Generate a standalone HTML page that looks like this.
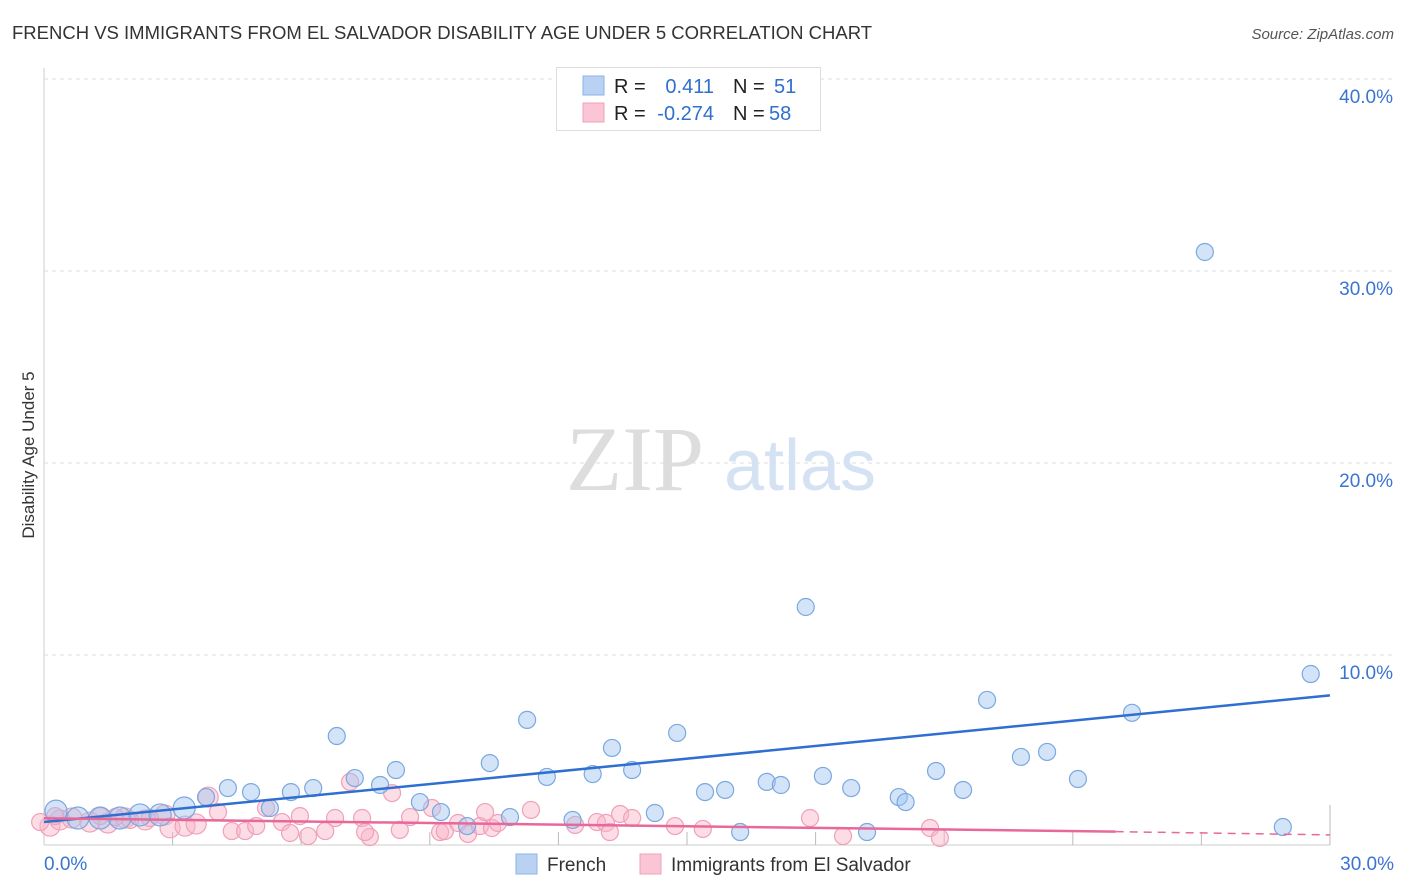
<!DOCTYPE html>
<html><head><meta charset="utf-8"><style>
body{margin:0;background:#fff;font-family:"Liberation Sans",sans-serif}
svg{display:block}
</style></head><body>
<svg id="chart" width="1406" height="892" xmlns="http://www.w3.org/2000/svg">
<text x="12" y="39" font-size="18.5" fill="#333">FRENCH VS IMMIGRANTS FROM EL SALVADOR DISABILITY AGE UNDER 5 CORRELATION CHART</text>
<text x="1394" y="39" font-size="15" fill="#555" font-style="italic" text-anchor="end">Source: ZipAtlas.com</text>
<g id="grid"></g>
<text x="635" y="490" font-size="92" fill="#ddd" text-anchor="middle" font-family="Liberation Serif,serif">ZIP</text>
<text x="800" y="490" font-size="72" fill="#d4e2f4" text-anchor="middle">atlas</text>
<text transform="translate(34,455) rotate(-90)" font-size="17" fill="#333" text-anchor="middle">Disability Age Under 5</text>
<g id="marks"></g>
<g>
<rect x="556.5" y="67.5" width="264" height="63" fill="#fff" stroke="#ddd"/>
<rect x="583" y="76" width="21" height="19" fill="#b9d2f3" stroke="#8db3e6"/>
<rect x="583" y="103" width="21" height="19" fill="#fac5d4" stroke="#f2a0b8"/>
<text x="614" y="93" font-size="20" fill="#222">R =</text>
<text x="714" y="93" font-size="20" fill="#2f6fcf" text-anchor="end">0.411</text>
<text x="733" y="93" font-size="20" fill="#222">N =</text>
<text x="774" y="93" font-size="20" fill="#2f6fcf">51</text>
<text x="614" y="120" font-size="20" fill="#222">R =</text>
<text x="714" y="120" font-size="20" fill="#2f6fcf" text-anchor="end">-0.274</text>
<text x="733" y="120" font-size="20" fill="#222">N =</text>
<text x="769" y="120" font-size="20" fill="#2f6fcf">58</text>
</g>
<g>
<rect x="516" y="854" width="21" height="20" fill="#b9d2f3" stroke="#8db3e6"/>
<text x="547" y="871" font-size="19" fill="#333">French</text>
<rect x="640" y="854" width="21" height="20" fill="#fac5d4" stroke="#f2a0b8"/>
<text x="671" y="871" font-size="19" fill="#333">Immigrants from El Salvador</text>
</g>
</svg>
<script>
const xTicks=[0,3,6,9,12,15,18,21,24,27,30];
const yTicks=[10,20,30,40];
const frenchX=[0.28,0.79,1.31,1.77,2.24,2.71,3.27,3.78,4.29,4.83,5.27,5.76,6.28,6.83,7.25,7.84,8.21,8.77,9.26,9.87,10.4,10.87,11.27,11.73,12.33,12.8,13.25,13.72,14.25,14.77,15.42,15.89,16.24,16.86,17.19,17.77,18.17,18.83,19.2,19.94,20.1,20.81,21.44,22.0,22.79,23.4,24.12,25.38,27.08,28.9,29.55];
const frenchY=[1.87,1.51,1.51,1.51,1.67,1.67,2.03,2.6,3.07,2.86,2.03,2.86,3.07,5.78,3.59,3.23,4.01,2.34,1.82,1.09,4.37,1.56,6.62,3.65,1.41,3.8,5.16,4.01,1.77,5.94,2.86,2.97,0.78,3.39,3.23,12.5,3.7,3.07,0.78,2.6,2.34,3.96,2.97,7.66,4.69,4.95,3.54,6.99,30.99,1.04,9.01];
const salvX=[0.14,0.37,0.65,1.07,1.49,1.89,2.36,2.82,2.94,3.29,3.55,3.83,4.06,4.38,4.69,4.95,5.18,5.55,5.74,5.97,6.16,6.56,6.79,7.14,7.42,7.6,8.12,8.3,8.54,9.05,9.24,9.35,9.66,9.89,10.17,10.29,10.45,10.59,11.36,12.39,12.9,13.11,13.2,13.44,13.72,14.72,15.37,17.87,18.64,20.67,20.9,0.26,-0.09,1.31,1.66,2.01,2.47,7.49];
const salvY=[1.09,1.41,1.51,1.3,1.25,1.51,1.41,1.67,1.0,1.09,1.2,2.6,1.82,0.83,0.83,1.09,2.03,1.3,0.73,1.61,0.57,0.83,1.51,3.39,1.51,0.52,2.81,0.89,1.56,2.03,0.78,0.83,1.25,0.68,1.09,1.82,0.99,1.25,1.93,1.15,1.3,1.25,0.78,1.72,1.51,1.09,0.94,1.51,0.57,0.99,0.47,1.61,1.3,1.61,1.56,1.41,1.51,0.78];
const blueLine=[[0,1.3],[30,7.9]];
const pinkLine=[[0,1.5],[25,0.8],[30,0.63]];

const NS="http://www.w3.org/2000/svg";
const X0=44,X1=1330,Y0=847,PPY=19.2;
const xs=v=>X0+(X1-X0)*v/30;
const ys=v=>Y0-v*PPY;
function mk(tag,attrs,parent){const e=document.createElementNS(NS,tag);for(const k in attrs)e.setAttribute(k,attrs[k]);parent.appendChild(e);return e;}
const grid=document.getElementById('grid');
const marks=document.getElementById('marks');
let ax=mk('line',{x1:X0,x2:X0,y1:68,y2:845,stroke:'#ccc'},grid);


let bx=mk('line',{x1:X0,x2:X1,y1:845,y2:845,stroke:'#ccc'},grid);


yTicks.forEach(t=>{
 const g=mk('line',{x1:X0,x2:1392,y1:ys(t),y2:ys(t),stroke:'#ddd','stroke-dasharray':'4,4'},grid);
 
 
 const l=mk('text',{x:1393,y:ys(t)+24,'font-size':19,fill:'#3a74d0','text-anchor':'end'},grid);
 l.textContent=t.toFixed(1)+'%';
 
 
});
xTicks.forEach(t=>{
 if(t===0)return;
 const g=mk('line',{x1:xs(t),x2:xs(t),y1:t===30?805:832,y2:845,stroke:'#bbb'},grid);
 
 
});
[[0,'start',44],[30,'end',1394]].forEach(([t,a,x])=>{
 const l=mk('text',{x:x,y:870,'font-size':19,fill:'#3a74d0','text-anchor':a},grid);
 l.textContent=t.toFixed(1)+'%';
 
 
});
salvX.forEach((v,i)=>{
 const c=mk('circle',{cx:xs(v),cy:ys(salvY[i]),r:i<12?10:8.5,fill:'rgba(248,180,200,0.45)',stroke:'#f0a0b8','stroke-width':1.2},marks);
 
 
});
frenchX.forEach((v,i)=>{
 const c=mk('circle',{cx:xs(v),cy:ys(frenchY[i]),r:i<7?11:8.5,fill:'rgba(160,196,240,0.45)',stroke:'#7aa8e0','stroke-width':1.2},marks);
 
 
});
let bl=mk('line',{x1:xs(blueLine[0][0]),y1:ys(blueLine[0][1]),x2:xs(blueLine[1][0]),y2:ys(blueLine[1][1]),stroke:'#2f6fd0','stroke-width':2.5},marks);


let pl=mk('line',{x1:xs(pinkLine[0][0]),y1:ys(pinkLine[0][1]),x2:xs(pinkLine[1][0]),y2:ys(pinkLine[1][1]),stroke:'#e8689a','stroke-width':2.5},marks);


let pd=mk('line',{x1:xs(pinkLine[1][0]),y1:ys(pinkLine[1][1]),x2:xs(pinkLine[2][0]),y2:ys(pinkLine[2][1]),stroke:'#e8689a','stroke-width':1.5,'stroke-dasharray':'8,6'},marks);


</script>
</body></html>
